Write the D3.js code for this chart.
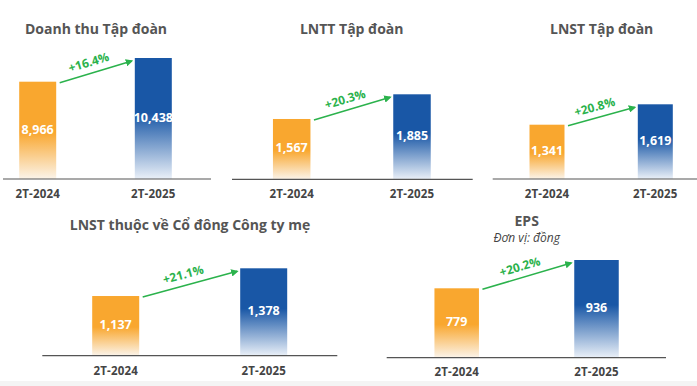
<!DOCTYPE html>
<html lang="vi">
<head>
	<meta charset="utf-8">
	<title>Kết quả kinh doanh 2T-2025</title>
	<script src="https://d3js.org/d3.v7.min.js"></script>
	<style type="text/css">
		body { margin: 0; background: #fff; }
		svg text { font-family: "Open Sans", sans-serif; }
		.title { font-weight: 700; font-size: 14px; fill: #555; }
		.subtitle { font-style: italic; font-size: 12px; fill: #444; }
		.period { font-weight: 700; font-size: 11.5px; fill: #444; letter-spacing: 0.2px; }
		.value { font-weight: 700; font-size: 12.5px; fill: #fff; }
		.growth { font-weight: 700; font-size: 12px; fill: #2bb24c; }
	</style>
</head>
<body>
<script type="text/javascript">

	// Data
	var periods = ["2T-2024", "2T-2025"];
	var titles = ["Doanh thu Tập đoàn", "LNTT Tập đoàn", "LNST Tập đoàn",
	              "LNST thuộc về Cổ đông Công ty mẹ", "EPS"];
	var revenue = [8966, 10438];
	var profitBeforeTax = [1567, 1885];
	var profitAfterTax = [1341, 1619];
	var parentProfit = [1137, 1378];
	var eps = [779, 936];
	var growthLabels = ["+16.4%", "+20.3%", "+20.8%", "+21.1%", "+20.2%"];
	var epsUnit = "Đơn vị: đồng";

	var seriesList = [revenue, profitBeforeTax, profitAfterTax, parentProfit, eps];

	// Layout of each small panel (the y domain does not start at zero in the original)
	var panels = [
		{tx: 96,    ty: 30,    x: [37.7, 153.3],  bw: 37,   base: 179,   top: 58,    line: [3, 211],       ly: 195,   floor: 2923},
		{tx: 351.7, ty: 30,    x: [291.7, 412],   bw: 37.5, base: 179.3, top: 94.3,  line: [232, 472.7],   ly: 195,   floor: 790},
		{tx: 601.7, ty: 30,    x: [547, 655.3],   bw: 35,   base: 179,   top: 104.3, line: [492.7, 697],   ly: 195,   floor: 601},
		{tx: 190,   ty: 226,   x: [115.7, 263.7], bw: 47,   base: 355.7, top: 268.3, line: [42.3, 337.3],  ly: 371.7, floor: 618},
		{tx: 526.7, ty: 222,   x: [456.7, 596.5], bw: 44.5, base: 357.7, top: 260,   line: [386.7, 666],   ly: 373.3, floor: 394}
	];

	var width = 697, height = 386;
	var fmt = d3.format(",");

	var svg = d3.select("body")
				.append("svg")
				.attr("width", width)
				.attr("height", height);

	var defs = svg.append("defs");

	// Bars fade out toward the baseline
	function addGradient(id, color, solidUntil, light) {
		var g = defs.append("linearGradient")
					.attr("id", id)
					.attr("x1", 0).attr("y1", 0)
					.attr("x2", 0).attr("y2", 1);
		g.append("stop").attr("offset", 0).attr("stop-color", color);
		g.append("stop").attr("offset", solidUntil).attr("stop-color", color);
		g.append("stop").attr("offset", 1).attr("stop-color", light);
	}
	addGradient("gOrange", "#f9a72f", 0.52, "#fbf4ea");
	addGradient("gBlue", "#1957a6", 0.46, "#eaf0f8");

	defs.append("marker")
		.attr("id", "arrowHead")
		.attr("viewBox", "0 0 10 10")
		.attr("refX", 8).attr("refY", 5)
		.attr("markerWidth", 5).attr("markerHeight", 5)
		.attr("orient", "auto")
		.append("path")
		.attr("d", "M0,0L10,5L0,10z")
		.attr("fill", "#2bb24c");

	// Light grey strip at the very bottom
	svg.append("rect")
		.attr("x", 0).attr("y", 381)
		.attr("width", width).attr("height", 5)
		.attr("fill", "#f4f4f4");

	panels.forEach(function(p, i) {
		var values = seriesList[i];
		var data = periods.map(function(d, j) { return {period: d, value: values[j]}; });

		var xScale = d3.scalePoint()
						.domain(periods)
						.range(p.x);

		var yScale = d3.scaleLinear()
						.domain([p.floor, d3.max(values)])
						.range([p.base, p.top]);

		var g = svg.append("g");

		// Title
		g.append("text")
			.attr("class", "title")
			.attr("x", p.tx)
			.attr("y", p.ty)
			.attr("text-anchor", "middle")
			.attr("dominant-baseline", "middle")
			.text(titles[i]);

		if (i === 4) {
			g.append("text")
				.attr("class", "subtitle")
				.attr("x", p.tx)
				.attr("y", p.ty + 17)
				.attr("text-anchor", "middle")
				.attr("dominant-baseline", "middle")
				.text(epsUnit);
		}

		// Bars
		g.selectAll("rect")
			.data(data)
			.enter()
			.append("rect")
			.attr("x", function(d) { return xScale(d.period) - p.bw / 2; })
			.attr("y", function(d) { return yScale(d.value); })
			.attr("width", p.bw)
			.attr("height", function(d) { return p.base - yScale(d.value); })
			.attr("fill", function(d, j) { return j === 0 ? "url(#gOrange)" : "url(#gBlue)"; });

		// Value labels in the middle of each bar
		g.selectAll(".value")
			.data(data)
			.enter()
			.append("text")
			.attr("class", "value")
			.attr("x", function(d) { return xScale(d.period); })
			.attr("y", function(d) { return (yScale(d.value) + p.base) / 2; })
			.attr("text-anchor", "middle")
			.attr("dominant-baseline", "middle")
			.text(function(d) { return fmt(d.value); });

		// Baseline
		g.append("line")
			.attr("x1", p.line[0]).attr("x2", p.line[1])
			.attr("y1", p.base).attr("y2", p.base)
			.attr("stroke", "#555")
			.attr("stroke-width", 1.2);

		// Period labels
		g.selectAll(".period")
			.data(data)
			.enter()
			.append("text")
			.attr("class", "period")
			.attr("x", function(d) { return xScale(d.period); })
			.attr("y", p.ly)
			.attr("text-anchor", "middle")
			.attr("dominant-baseline", "middle")
			.text(function(d) { return d.period; });

		// Growth arrow from bar 1 to bar 2
		var x1 = xScale(periods[0]) + p.bw / 2 + 3.5;
		var y1 = yScale(values[0]) + 1;
		var x2 = xScale(periods[1]) - p.bw / 2 - 3;
		var y2 = yScale(values[1]) + 3;

		g.append("line")
			.attr("x1", x1).attr("y1", y1)
			.attr("x2", x2).attr("y2", y2)
			.attr("stroke", "#2bb24c")
			.attr("stroke-width", 1.5)
			.attr("marker-end", "url(#arrowHead)");

		var angle = Math.atan2(y2 - y1, x2 - x1);
		var mx = (x1 + x2) / 2 - 4 * Math.cos(angle) + 10 * Math.sin(angle);
		var my = (y1 + y2) / 2 - 4 * Math.sin(angle) - 10 * Math.cos(angle);

		g.append("text")
			.attr("class", "growth")
			.attr("text-anchor", "middle")
			.attr("dominant-baseline", "middle")
			.attr("transform", "translate(" + mx + "," + my + ") rotate(" + (angle * 180 / Math.PI) + ")")
			.text(growthLabels[i]);
	});

</script>
</body>
</html>
